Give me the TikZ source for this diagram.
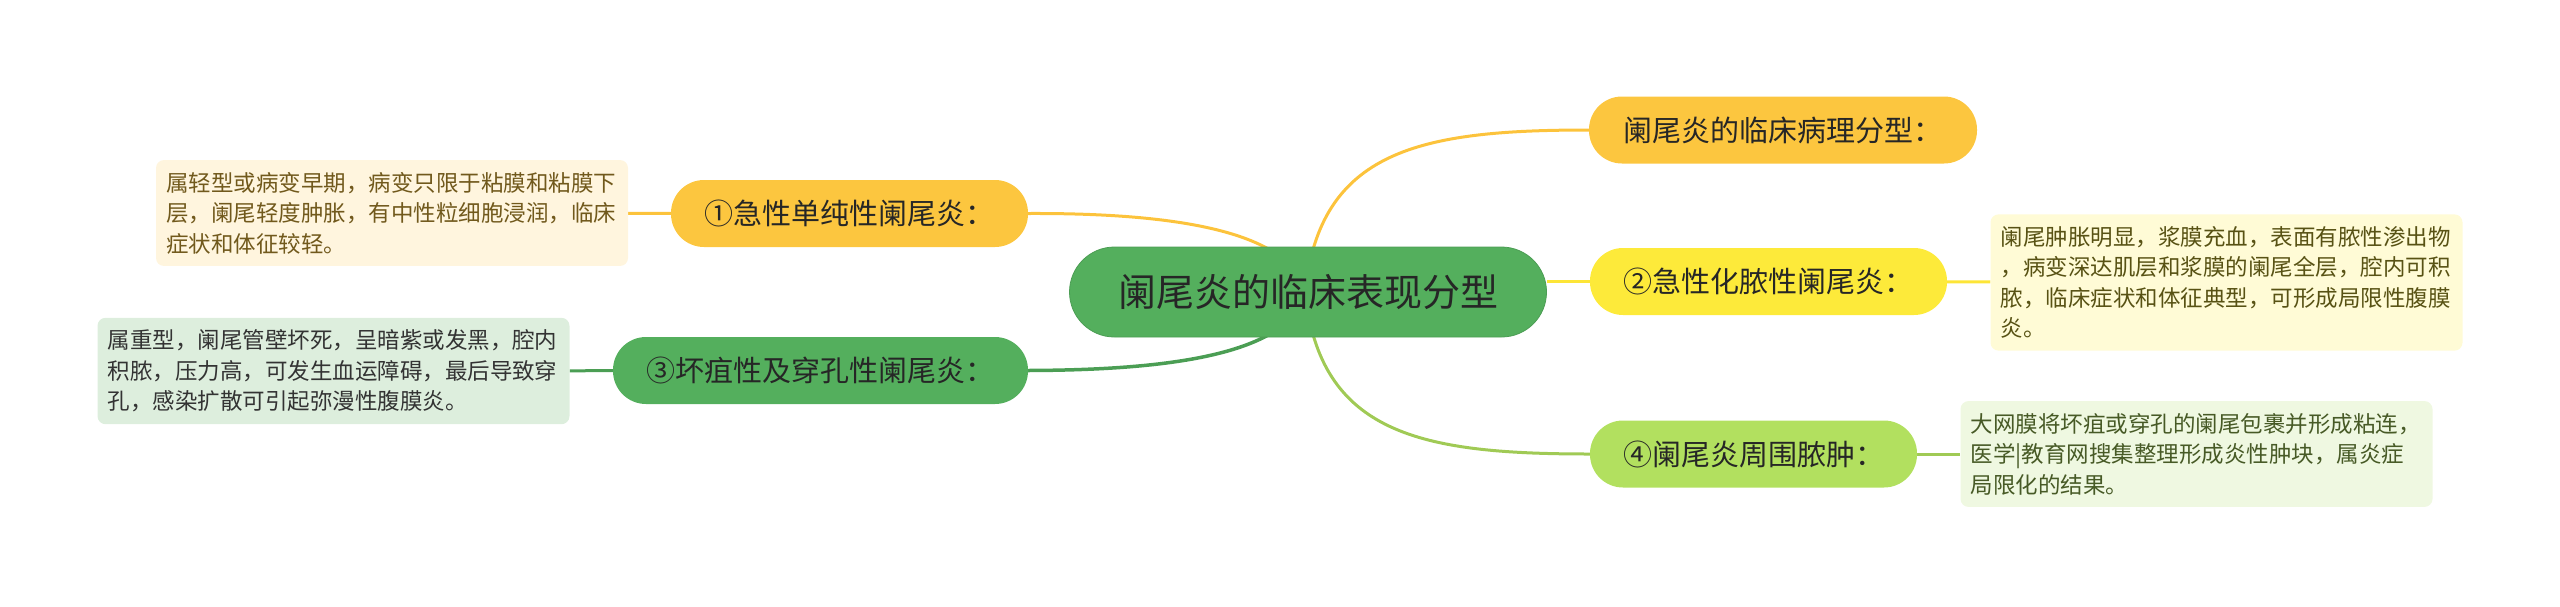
\documentclass[tikz,border=0pt]{standalone}
\usepackage{fontspec}
\setmainfont{Noto Sans CJK SC}
\usetikzlibrary{positioning,backgrounds}
\definecolor{rootgreen}{HTML}{54AF5D}
\definecolor{gold}{HTML}{FCC63F}
\definecolor{lemon}{HTML}{FDEA3A}
\definecolor{lime}{HTML}{B2E05F}
\definecolor{creamfill}{HTML}{FFF5DE}
\definecolor{sagefill}{HTML}{DDEEDD}
\definecolor{lemonfill}{HTML}{FFFBD6}
\definecolor{limefill}{HTML}{EFF8E1}

\begin{document}
\begin{tikzpicture}[x=1pt,y=-1pt]
	\tikzset{root/.style={fill=rootgreen,draw=rootgreen!90!black,line width=0.8pt,rounded corners=45pt,minimum width=477pt,minimum height=90pt,inner sep=0pt,font=\fontsize{38}{44}\selectfont,text=black!85},
		topic/.style={rounded corners=33pt,minimum height=67pt,inner sep=0pt,font=\fontsize{29}{34}\selectfont,text=black!85},
		note/.style={rounded corners=8pt,align=left,text width=452pt,inner xsep=10pt,inner ysep=12pt,font=\fontsize{22.5}{30.5}\selectfont},
		link/.style={line width=3pt}}
	\useasboundingbox (0,0) rectangle (2560,606);
	\node[root] (root) at (1308,292) {阑尾炎的临床表现分型};
	\node[topic,fill=gold,minimum width=388pt] (n0) at (1783,130) {阑尾炎的临床病理分型：};
	\node[topic,fill=gold,minimum width=357pt] (n1) at (849.5,213.5) {①急性单纯性阑尾炎：};
	\node[topic,fill=lemon,minimum width=357pt] (n2) at (1768.5,281.5) {②急性化脓性阑尾炎：};
	\node[topic,fill=rootgreen,minimum width=415pt] (n3) at (820.5,370.5) {③坏疽性及穿孔性阑尾炎：};
	\node[topic,fill=lime,minimum width=327pt] (n4) at (1753.5,454) {④阑尾炎周围脓肿：};
	\node[note,fill=creamfill,text=gold!45!black] (d1) at (392,213) {属轻型或病变早期，病变只限于粘膜和粘膜下\\层，阑尾轻度肿胀，有中性粒细胞浸润，临床\\症状和体征较轻。};
	\node[note,fill=sagefill,text=black!80] (d3) at (333.5,371) {属重型，阑尾管壁坏死，呈暗紫或发黑，腔内\\积脓，压力高，可发生血运障碍，最后导致穿\\孔，感染扩散可引起弥漫性腹膜炎。};
	\node[note,fill=lemonfill,text=lemon!35!black] (d2) at (2226.5,282.5) {阑尾肿胀明显，浆膜充血，表面有脓性渗出物\\，病变深达肌层和浆膜的阑尾全层，腔内可积\\脓，临床症状和体征典型，可形成局限性腹膜\\炎。};
	\node[note,fill=limefill,text=lime!40!black] (d4) at (2196.5,454) {大网膜将坏疽或穿孔的阑尾包裹并形成粘连，\\医学|教育网搜集整理形成炎性肿块，属炎症\\局限化的结果。};
	\begin{scope}[on background layer]
		\draw[link,gold!95!orange] ([xshift=-3pt]root.center) .. controls (1320,150) and (1420,130) .. (n0.west);
		\draw[link,lime!90!black] ([xshift=-3pt]root.center) .. controls (1320,434) and (1420,454) .. (n4.west);
		\draw[link,gold!95!orange] ([xshift=-3pt]root.center) .. controls (1290,225) and (1150,213) .. (n1.east);
		\draw[link,rootgreen!90!black,line width=3.5pt] ([xshift=-3pt]root.center) .. controls (1290,359) and (1150,370) .. (n3.east);
		\draw[link,lemon!95!orange] (root.east |- n2.west) -- (n2.west);
		\path[link]
			(n1) edge[gold!95!orange] (d1)
			(n3) edge[rootgreen!90!black] (d3)
			(n2) edge[lemon!95!orange] (d2)
			(n4) edge[lime!90!black] (d4);
	\end{scope}
\end{tikzpicture}
\end{document}
